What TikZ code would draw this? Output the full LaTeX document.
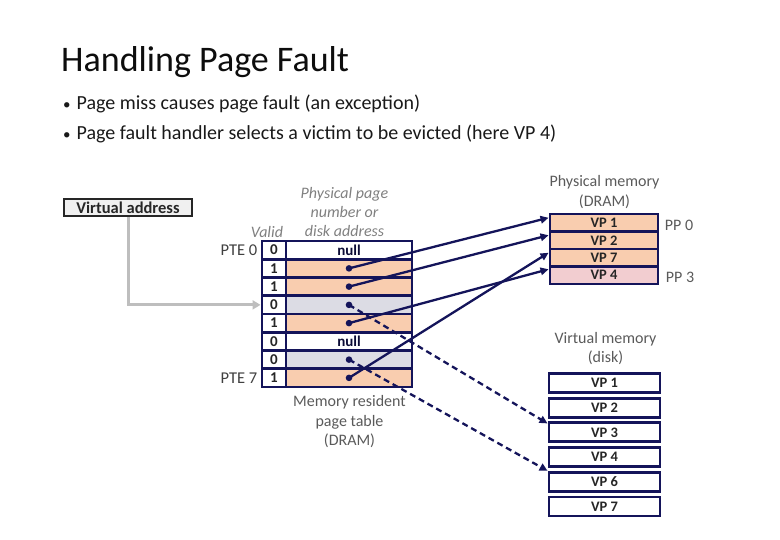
\documentclass[tikz,border=0pt]{standalone}
\usepackage{fontspec}
\setmainfont{Carlito}
\usetikzlibrary{arrows.meta,calc}
\definecolor{navy}{HTML}{14145A}
\definecolor{peach}{HTML}{F9CDAF}
\definecolor{pinkc}{HTML}{F2CDD0}
\definecolor{grayrow}{HTML}{DCDCE4}
\definecolor{vafill}{HTML}{F0F0F0}
\definecolor{lbl}{HTML}{5A5A5A}
\definecolor{garrow}{HTML}{BEBEBE}
\tikzset{
  x=1pt, y=-1pt,
  ptcell/.style={draw=navy, line width=2.9pt, minimum width=126pt, minimum height=18.25pt, inner sep=0pt, font=\fontsize{15}{15}\selectfont\bfseries, text=navy!60!black},
  vcell/.style={draw=navy, line width=2.9pt, minimum width=24pt, minimum height=18.25pt, inner sep=0pt, fill=white, font=\fontsize{15}{15}\selectfont\bfseries, text=black!85},
  pmcell/.style={draw=navy, line width=2.9pt, minimum width=108pt, minimum height=17.5pt, inner sep=0pt, font=\fontsize{14.5}{14.5}\selectfont\bfseries, text=black!85},
  dkcell/.style={draw=navy, line width=2.9pt, minimum width=111pt, minimum height=19pt, inner sep=0pt, fill=white, font=\fontsize{14.5}{14.5}\selectfont\bfseries, text=black!85},
  lab/.style={text=lbl, font=\fontsize{16}{19.5}\selectfont, align=center, inner sep=0pt},
  ilab/.style={text=black!50, font=\fontsize{16}{19}\selectfont\itshape, align=center, inner sep=0pt},
  pte/.style={text=black!75, font=\fontsize{16.5}{16.5}\selectfont, inner sep=0pt, anchor=east},
  solidarr/.style={draw=navy, line width=2.3pt, -{Triangle[length=8pt,width=7.5pt]}},
  dasharr/.style={draw=navy, line width=2.3pt, dash pattern=on 6pt off 4pt, -{Triangle[length=8pt,width=7.5pt]}},
  dotc/.style={fill=navy},
}
\begin{document}
\begin{tikzpicture}
\useasboundingbox (0,0) rectangle (780,540);
% title and bullets
\node[anchor=base west, inner sep=0pt, font=\fontsize{36}{36}\selectfont, text=black!95] (title) at (61,72) {Handling Page Fault};
\node[anchor=base west, inner sep=0pt, font=\fontsize{20}{20}\selectfont, text=black!90] (b1) at (63,110) {{\fontsize{15}{15}\selectfont\textbullet}\hspace{6pt}Page miss causes page fault (an exception)};
\node[anchor=base west, inner sep=0pt, font=\fontsize{20}{20}\selectfont, text=black!90] (b2) at (63,140) {{\fontsize{15}{15}\selectfont\textbullet}\hspace{6pt}Page fault handler selects a victim to be evicted (here VP 4)};

% virtual address box
\node[draw=black!85, line width=1.8pt, fill=vafill, minimum width=128pt, minimum height=17pt, inner sep=0pt, font=\fontsize{16.5}{16.5}\selectfont\bfseries, text=black!85] (va) at (128,207.5) {Virtual address};

% page table
\foreach \i/\v/\f/\t in {0/0/white/null,1/1/peach/,2/1/peach/,3/0/grayrow/,4/1/peach/,5/0/white/null,6/0/grayrow/,7/1/peach/}{
  \node[ptcell, fill=\f] (p\i) at (349, 241+18.25*\i+9.125) {\t};
  \node[vcell] (v\i) at (274, 241+18.25*\i+9.125) {\v};
}
\node[pte] (pte0) at ([xshift=-3pt]v0.west) {PTE 0};
\node[pte] (pte7) at ([xshift=-3pt]v7.west) {PTE 7};
\node[ilab] (valid) at (267,232) {Valid};
\node[ilab] (ppn) at (344.5,212.5) {Physical page\\number or\\disk address};
\node[lab] (mrpt) at (349.5,422) {Memory resident\\page table\\(DRAM)};

% gray arrow
\draw[garrow, line width=3pt, -{Triangle[length=8pt,width=9pt]}] (va.south) |- (v3.west);

% physical memory
\node[lab] (pmlab) at (604.5,192) {Physical memory\\(DRAM)};
\foreach \i/\t/\f in {1/VP 1/peach,2/VP 2/peach,3/VP 7/peach,4/VP 4/pinkc}{
  \node[pmcell, fill=\f] (m\i) at (604, 214+17.5*\i-8.75) {\t};
}
\node[lab] (pp0) at (679,225) {PP 0};
\node[lab] (pp3) at (680,277) {PP 3};

% virtual memory (disk)
\node[lab] (vmlab) at (605.5,348.5) {Virtual memory\\(disk)};
\foreach \i/\t in {1/VP 1,2/VP 2,3/VP 3,4/VP 4,5/VP 6,6/VP 7}{
  \node[dkcell] (k\i) at (604.5, 383+24.7*\i-24.7) {\t};
}

% dots
\foreach \i in {1,2,3,4,6,7}{
  \coordinate (d\i) at (p\i.center);
}

% connectors
\draw[solidarr] (d1) -- ([yshift=5pt]m1.west);
\draw[solidarr] (d2) -- ([yshift=5pt]m2.west);
\draw[solidarr] (d7) -- ([yshift=5pt]m3.west);
\draw[solidarr] (d4) -- ([yshift=6pt]m4.west);
\draw[dasharr] (d3) -- ([yshift=-2pt]k3.north west);
\draw[dasharr] (d6) -- (k5.north west);
\foreach \i in {1,2,3,4,6,7}{
  \fill[dotc] (d\i) circle (3.3pt);
}
\end{tikzpicture}
\end{document}
